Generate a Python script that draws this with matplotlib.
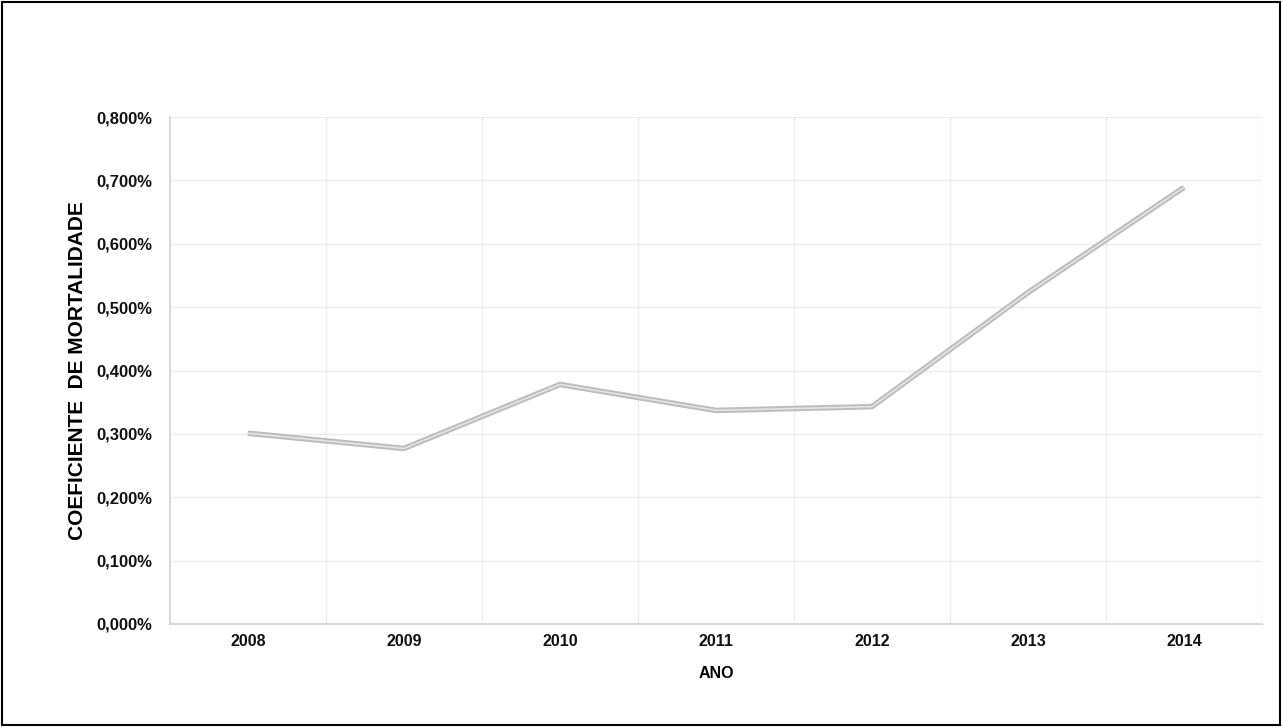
import matplotlib.pyplot as plt
from matplotlib.ticker import FuncFormatter
from matplotlib.font_manager import FontProperties

plt.rcParams['font.family'] = ['Liberation Sans', 'DejaVu Sans']

anos = ['2008', '2009', '2010', '2011', '2012', '2013', '2014']
coeficiente = [0.301, 0.277, 0.378, 0.337, 0.343, 0.523, 0.689]  # em %

fig = plt.figure(figsize=(12.82, 7.27), dpi=100)
ax = fig.add_axes([170 / 1282, 103 / 727, 1092 / 1282, 507 / 727])

x = list(range(len(anos)))
ax.plot(x, coeficiente, color='#bdbdbd', lw=4, solid_capstyle='butt', zorder=3)
ax.plot(x, coeficiente, color='#e4e4e4', lw=1.2, zorder=4)

ax.set_xlim(-0.5, len(anos) - 0.5)
ax.set_ylim(0, 0.8)
ax.set_yticks([i / 10 for i in range(9)])
ax.yaxis.set_major_formatter(FuncFormatter(lambda v, p: f'{v:.3f}%'.replace('.', ',')))
ax.set_xticks(x)
ax.set_xticklabels(anos)

# grade vertical entre as categorias
for b in [i + 0.5 for i in range(len(anos))]:
    ax.axvline(b, color='#ececec', lw=1, zorder=1)
ax.grid(axis='y', color='#ececec', lw=1, zorder=1)

for s in ['top', 'right']:
    ax.spines[s].set_visible(False)
for s in ['left', 'bottom']:
    ax.spines[s].set_color('#d9d9d9')
    ax.spines[s].set_linewidth(1.5)

ax.tick_params(axis='x', length=0, labelsize=11.5, pad=7)
ax.tick_params(axis='y', length=0, labelsize=12, pad=13)
for lbl in ax.get_xticklabels() + ax.get_yticklabels():
    lbl.set_fontweight('bold')
    lbl.set_color('#111111')

fp_x = FontProperties(family='Liberation Sans', weight='bold', size=11.5)
fp_y = FontProperties(family='Liberation Sans', weight='bold', size=15)
ax.set_xlabel('ANO', fontproperties=fp_x)
ax.set_ylabel('COEFICIENTE  DE MORTALIDADE', fontproperties=fp_y)
ax.xaxis.set_label_coords(0.5, -0.083)
ax.yaxis.set_label_coords(-0.085, 0.5)
ax.yaxis.label.set_va('center')

# moldura externa
fig.patches.append(plt.Rectangle((0.0015, 0.0025), 0.997, 0.995, transform=fig.transFigure,
                                 fill=False, edgecolor='black', lw=1.5))

fig.savefig('out.png', dpi=100)
